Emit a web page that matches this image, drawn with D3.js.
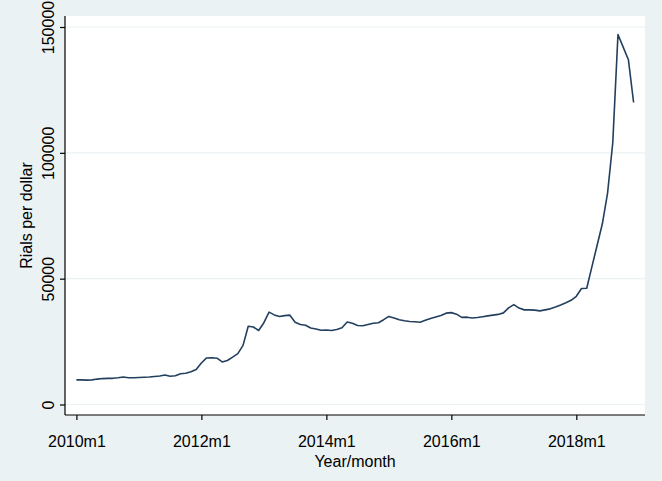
<!DOCTYPE html>
<html>
<head>
<meta charset="utf-8">
<script src="https://cdn.jsdelivr.net/npm/d3@7"></script>
<style>
  html, body { margin: 0; padding: 0; background: #eaf2f3; }
  svg { display: block; }
  text { font-family: "Liberation Sans", Arial, Helvetica, sans-serif; fill: #000; }
</style>
</head>
<body>
<svg id="chart" width="662" height="481"></svg>
<script>
// Monthly exchange rate, rials per US dollar, 2010m1 .. 2018m12
const startYear = 2010;
const rates = [
  9800, 9800, 9700, 9800, 10100, 10300, 10400, 10400, 10600, 10900, 10600, 10600,
  10700, 10800, 10900, 11100, 11300, 11700, 11200, 11400, 12200, 12400, 13000, 13900,
  16500, 18500, 18600, 18400, 16900, 17500, 18800, 20200, 23500, 31100, 30800, 29400,
  32500, 36700, 35600, 35000, 35300, 35500, 32700, 31800, 31500, 30400, 30000, 29500,
  29600, 29400, 29800, 30500, 32800, 32300, 31400, 31300, 31800, 32300, 32500, 33700,
  35000, 34400, 33700, 33300, 33000, 32900, 32700, 33500, 34200, 34800, 35400, 36300,
  36500, 35900, 34600, 34700, 34400, 34600, 34900, 35200, 35500, 35800, 36400, 38400,
  39700, 38300, 37600, 37600, 37500, 37200, 37600, 38000, 38700, 39500, 40400, 41400,
  43000, 46100, 46200, 54800, 63300, 71800, 84000, 104000, 147000, 142000, 137000, 120000
];
const xTickMonths = [0, 24, 48, 72, 96];
const xTickLabels = ["2010m1", "2012m1", "2014m1", "2016m1", "2018m1"];
const yTicks = [0, 50000, 100000, 150000];
const xTitle = "Year/month";
const yTitle = "Rials per dollar";

const W = 662, H = 481;
const plot = { left: 65, right: 645, top: 16, bottom: 415 };

const svg = d3.select("#chart");
svg.append("rect").attr("x", 0).attr("y", 0).attr("width", W).attr("height", H).attr("fill", "#eaf2f3");
svg.append("rect")
  .attr("x", plot.left).attr("y", plot.top)
  .attr("width", plot.right - plot.left).attr("height", plot.bottom - plot.top)
  .attr("fill", "#ffffff");

const x = d3.scaleLinear().domain([0, rates.length - 1]).range([76.4, 633.6]);
const y = d3.scaleLinear().domain([0, 150000]).range([404.5, 27]);

// gridlines
svg.append("g").selectAll("line").data(yTicks).join("line")
  .attr("x1", plot.left).attr("x2", plot.right)
  .attr("y1", d => y(d)).attr("y2", d => y(d))
  .attr("stroke", "#eaf2f3").attr("stroke-width", 1.2);

// y axis
const yAxis = d3.axisLeft(y).tickValues(yTicks).tickSize(5).tickPadding(0).tickFormat(d3.format("d"));
const gy = svg.append("g").attr("transform", `translate(${plot.left},0)`).call(yAxis);
gy.select(".domain").remove();
gy.append("line").attr("x1", 0).attr("x2", 0).attr("y1", plot.top).attr("y2", plot.bottom)
  .attr("stroke", "#000").attr("stroke-width", 1.2);
gy.selectAll(".tick line").attr("stroke", "#000").attr("stroke-width", 1.2);
gy.selectAll(".tick text")
  .attr("x", null).attr("dy", null)
  .attr("text-anchor", "middle")
  .attr("transform", "translate(-11.5,0) rotate(-90)")
  .attr("y", 0)
  .style("font-size", "16px")
  .attr("fill", "#000");
gy.attr("font-family", null).attr("font-size", null);

// x axis
const xAxis = d3.axisBottom(x).tickValues(xTickMonths).tickSize(5).tickPadding(0)
  .tickFormat((d, i) => xTickLabels[i]);
const gx = svg.append("g").attr("transform", `translate(0,${plot.bottom})`).call(xAxis);
gx.select(".domain").remove();
gx.append("line").attr("x1", plot.left).attr("x2", plot.right).attr("y1", 0).attr("y2", 0)
  .attr("stroke", "#000").attr("stroke-width", 1.2);
gx.selectAll(".tick line").attr("stroke", "#000").attr("stroke-width", 1.2);
gx.selectAll(".tick text").attr("dy", null).attr("y", 32).style("font-size", "16px").attr("fill", "#000");
gx.attr("font-family", null).attr("font-size", null);

// titles
svg.append("text").attr("x", (plot.left + plot.right) / 2).attr("y", 467)
  .attr("text-anchor", "middle").style("font-size", "16px").text(xTitle);
svg.append("text")
  .attr("transform", `translate(32,${(plot.top + plot.bottom) / 2}) rotate(-90)`)
  .attr("text-anchor", "middle").style("font-size", "16px").text(yTitle);

// line
const line = d3.line().x((d, i) => x(i)).y(d => y(d));
svg.append("path").datum(rates)
  .attr("d", line)
  .attr("fill", "none")
  .attr("stroke", "#22405e")
  .attr("stroke-width", 1.6)
  .attr("stroke-linejoin", "round");
</script>
</body>
</html>
